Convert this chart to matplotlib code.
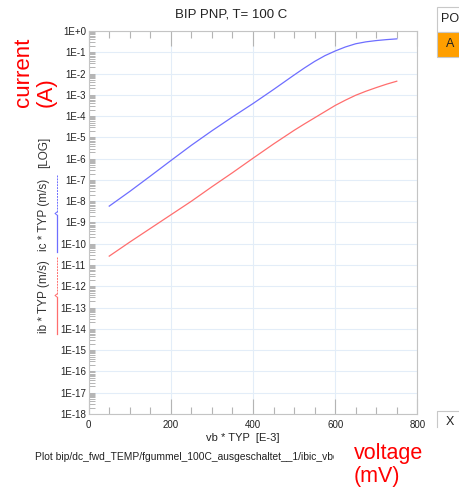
import numpy as np
import matplotlib
matplotlib.use('Agg')
import matplotlib.pyplot as plt
from matplotlib.ticker import FixedLocator, LogLocator, NullFormatter, MultipleLocator
from matplotlib.lines import Line2D
from matplotlib.patches import Rectangle
from matplotlib.transforms import Bbox, TransformedBbox

plt.rcParams['font.family'] = ['Liberation Sans', 'DejaVu Sans']

# gummel plot, values (log10 of current in A)
vbe_mv = [50, 100, 150, 200, 250, 300, 350, 400, 450, 500,
          525, 550, 575, 600, 625, 650, 675, 700, 725, 750]
log_ic = [-8.23, -7.54, -6.82, -6.09, -5.37, -4.69, -4.04, -3.41, -2.75, -2.07,
          -1.74, -1.43, -1.16, -0.94, -0.75, -0.60, -0.51, -0.45, -0.405, -0.37]
log_ib = [-10.58, -9.92, -9.28, -8.64, -8.00, -7.32, -6.66, -5.98, -5.31, -4.67,
          -4.37, -4.08, -3.79, -3.50, -3.25, -3.02, -2.83, -2.66, -2.50, -2.36]

x_ticks = [0, 200, 400, 600, 800]
y_decades = list(range(0, 19))
y_labels = ['1E+0'] + ['1E-%d' % k for k in y_decades[1:]]

W, H = 460, 492


def fx(px):
    return px / W


def fy(py):
    return 1 - py / H


fig = plt.figure(figsize=(W / 100, H / 100), dpi=100)
ax = fig.add_axes([fx(88.7), fy(414), (417.3 - 88.7) / W, (414 - 31) / H])

ax.plot(vbe_mv, 10.0 ** np.array(log_ic), color='#6e6eff', lw=0.9)
ax.plot(vbe_mv, 10.0 ** np.array(log_ib), color='#ff6e6e', lw=0.9)

ax.set_yscale('log')
ax.set_xlim(0, 800)
ax.set_ylim(1e-18, 1)

ax.xaxis.set_major_locator(FixedLocator(x_ticks))
ax.xaxis.set_minor_locator(MultipleLocator(50))
ax.yaxis.set_major_locator(FixedLocator([10.0 ** -k for k in y_decades]))
ax.set_yticklabels(y_labels)
ax.yaxis.set_minor_locator(LogLocator(base=10, subs=np.arange(2, 10), numticks=200))
ax.yaxis.set_minor_formatter(NullFormatter())

tick_col = '#b4b4b4'
ax.tick_params(axis='x', which='major', direction='in', top=True, bottom=True,
               length=11, width=0.8, color=tick_col, labelsize=7, pad=4,
               labelcolor='#222222')
ax.tick_params(axis='x', which='minor', direction='in', top=True, bottom=True,
               length=5, width=0.8, color=tick_col)
ax.tick_params(axis='y', which='both', direction='in', left=True, right=False,
               length=4.5, width=0.7, color=tick_col, labelsize=7, pad=2,
               labelcolor='#222222')

ax.grid(True, which='major', color='#e3edf8', lw=0.8)
ax.set_axisbelow(True)
for s in ax.spines.values():
    s.set_color('#c4c4c4')
    s.set_linewidth(0.8)

# titles and labels
fig.text(fx(231), fy(14.5), 'BIP PNP, T= 100 C', ha='center', va='center', fontsize=9.5, color='#222222')
fig.text(fx(243), fy(438), 'vb * TYP  [E-3]', ha='center', va='center', fontsize=8, color='#222222')
lab = '#333333'
fig.text(fx(44), fy(152), '[LOG]', rotation=90, ha='center', va='center', fontsize=8.5, color=lab)
fig.text(fx(44), fy(214.5), 'ic * TYP (m/s)', rotation=90, ha='center', va='center', fontsize=8.5, color=lab)
fig.text(fx(44), fy(296.5), 'ib * TYP (m/s)', rotation=90, ha='center', va='center', fontsize=8.5, color=lab)

# series markers next to the axis label
for col, y0, y1 in [('#6e6eff', 175, 252), ('#ff6e6e', 257, 334)]:
    ym = (y0 + y1) / 2
    fig.add_artist(Line2D([fx(57), fx(57)], [fy(y0), fy(ym - 1.5)], color=col, lw=0.7, ls=(0, (2, 1))))
    fig.add_artist(Line2D([fx(57), fx(55), fx(57)], [fy(ym - 1.5), fy(ym), fy(ym + 1.5)], color=col, lw=0.7))
    fig.add_artist(Line2D([fx(57), fx(57)], [fy(ym + 1.5), fy(y1)], color=col, lw=0.9))

plot_txt = fig.text(fx(35), fy(456.5), 'Plot bip/dc_fwd_TEMP/fgummel_100C_ausgeschaltet__1/ibic_vbe',
                    ha='left', va='center', fontsize=7.4, color='#222222')
plot_txt.set_clip_box(TransformedBbox(Bbox([[0, 0], [fx(334), 1]]), fig.transFigure))
plot_txt.set_clip_on(True)

fig.text(fx(35), fy(72.5), 'current\n(A)', rotation=90, ha='center', va='center',
         multialignment='left', fontsize=16, color='red', linespacing=1.1)
fig.text(fx(354), fy(465), 'voltage\n(mV)', ha='left', va='center', fontsize=15.5,
         color='red', linespacing=1.1)

# side panel widgets
fig.add_artist(Rectangle((fx(437.3), fy(31.7)), fx(30), 25 / H, transform=fig.transFigure,
                         facecolor='white', edgecolor='#c8c8c8', lw=0.8))
fig.add_artist(Rectangle((fx(437.3), fy(57)), fx(30), 25.3 / H, transform=fig.transFigure,
                         facecolor='#ff9f00', edgecolor='#c8c8c8', lw=0.8))
fig.text(fx(440.7), fy(19), 'PO', ha='left', va='center', fontsize=9, color='#222222')
fig.text(fx(450), fy(44), 'A', ha='center', va='center', fontsize=9, color='#222222')
fig.add_artist(Line2D([fx(437.3), fx(437.3), fx(461)], [fy(427), fy(410.7), fy(410.7)],
                      color='#c8c8c8', lw=0.8))
fig.text(fx(450), fy(422), 'X', ha='center', va='center', fontsize=9, color='#222222')

fig.savefig('out.png', dpi=100)
